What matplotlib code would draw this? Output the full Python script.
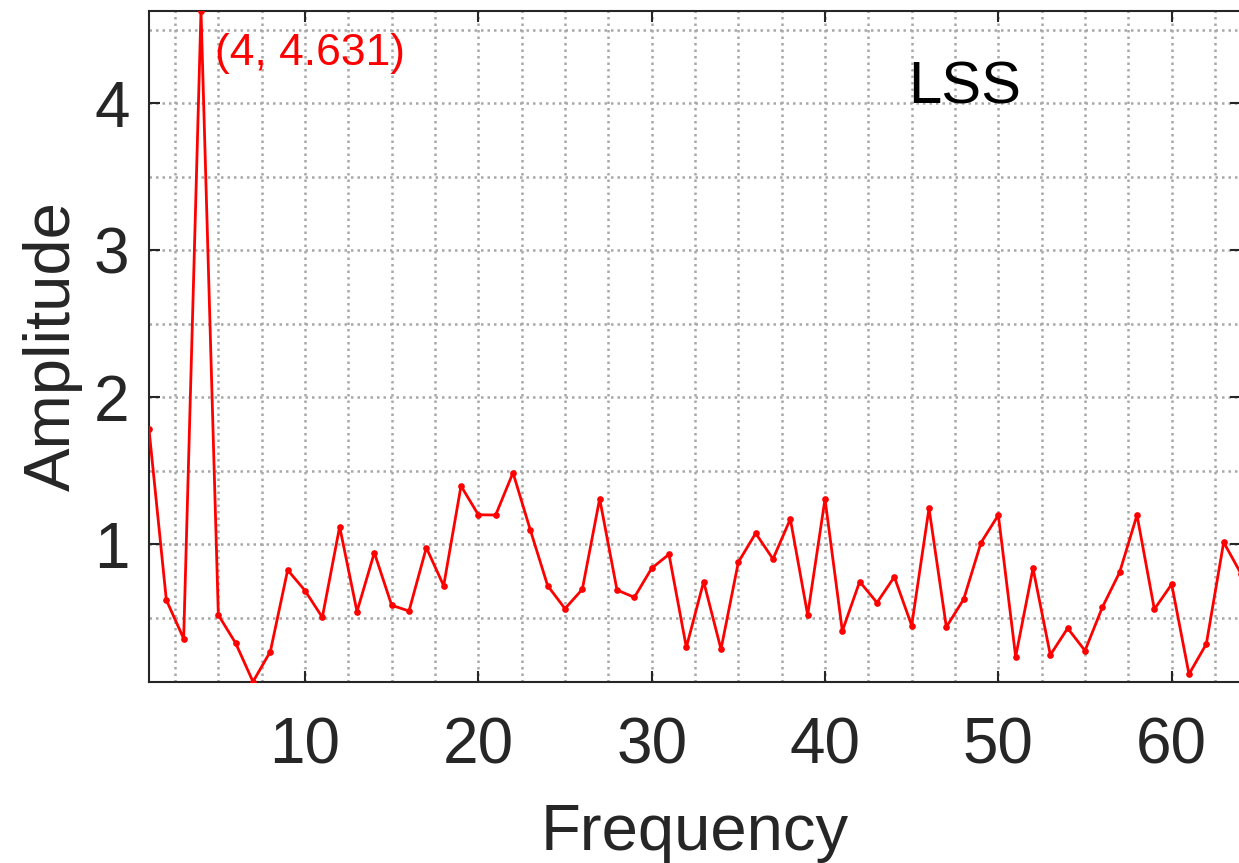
import matplotlib
matplotlib.use("Agg")
import matplotlib.pyplot as plt
from matplotlib.ticker import MultipleLocator

plt.rcParams['font.family'] = ['Liberation Sans', 'DejaVu Sans']

# amplitude spectrum (frequency 1..64)
freq = list(range(1, 65))
amp = [1.782, 0.621, 0.358, 4.631, 0.519, 0.327, 0.065, 0.270, 0.825, 0.685,
       0.503, 1.120, 0.542, 0.943, 0.585, 0.546, 0.977, 0.718, 1.397, 1.201,
       1.199, 1.487, 1.097, 0.718, 0.562, 0.694, 1.310, 0.689, 0.639, 0.837,
       0.932, 0.299, 0.746, 0.286, 0.878, 1.075, 0.900, 1.172, 0.519, 1.308,
       0.410, 0.746, 0.603, 0.778, 0.447, 1.245, 0.437, 0.626, 1.011, 1.199,
       0.235, 0.837, 0.247, 0.429, 0.276, 0.571, 0.810, 1.199, 0.558, 0.728,
       0.116, 0.322, 1.014, 0.800]
peak_x, peak_y = 4, 4.631
xticks = [10, 20, 30, 40, 50, 60]
yticks = [1, 2, 3, 4]

dark = '#262626'
W, H = 1239, 863
fig = plt.figure(figsize=(W / 100, H / 100), dpi=100)
ax = fig.add_axes([149 / W, 1 - 681.7 / H, (1241 - 149) / W, (681.7 - 10.7) / H])

ax.plot(freq, amp, color='red', lw=2.0, marker='o', ms=3.8, zorder=3)

ax.set_xlim(1, 64)
ax.set_ylim(min(amp), max(amp))
ax.set_xticks(xticks)
ax.set_yticks(yticks)
ax.xaxis.set_minor_locator(MultipleLocator(2.5))
ax.yaxis.set_minor_locator(MultipleLocator(0.5))

ax.grid(which='both', color='#a8a8a8', linestyle=(0, (1, 1.6)), linewidth=1.8)
ax.set_axisbelow(True)

ax.tick_params(which='major', direction='in', length=8, width=1.5, colors=dark,
               labelsize=46, top=True, right=True)
ax.tick_params(which='minor', length=0, top=True, right=True)
ax.tick_params(axis='x', pad=25)
ax.tick_params(axis='y', pad=14)
for s in ax.spines.values():
    s.set_color(dark)
    s.set_linewidth(1.5)

ax.set_xlabel('Frequency', fontsize=47, color=dark, labelpad=19)
ax.set_ylabel('Amplitude', fontsize=47, color=dark, labelpad=8)

ax.text(44.8, 4.0, 'LSS', fontsize=43, color='black', va='baseline', ha='left')
ax.text(peak_x + 0.8, 4.26, '(%d, %.3f)' % (peak_x, peak_y), fontsize=32,
        color='red', va='baseline', ha='left')

fig.savefig('out.png', dpi=100)
